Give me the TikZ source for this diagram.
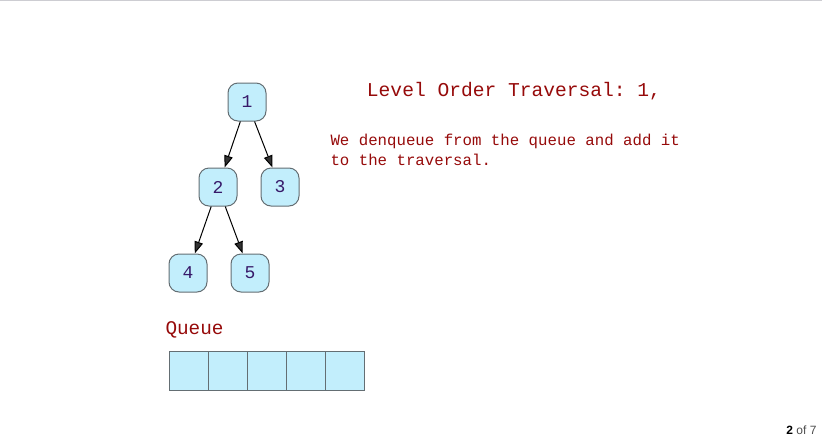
\documentclass[tikz,border=0pt]{standalone}
\usepackage{fontspec}
\setmainfont{Liberation Serif}
\setmonofont{Liberation Mono}
\newfontfamily\pagerfont{Liberation Sans}
\usetikzlibrary{arrows.meta}

\definecolor{cellfill}{RGB}{194,238,252}
\definecolor{cellline}{RGB}{100,110,115}
\definecolor{digitcol}{RGB}{55,25,105}
\definecolor{msgred}{RGB}{150,10,10}
\definecolor{topline}{RGB}{205,205,210}

\tikzset{every picture/.style={line width=0.75pt}}
\tikzset{
  treenode/.style={draw=cellline, fill=cellfill, rounded corners=7.5pt,
    minimum width=28.5pt, minimum height=28.5pt, inner sep=0pt,
    text=digitcol, font=\ttfamily\fontsize{13.5}{14}\selectfont},
  treeedge/.style={draw=black, -{Triangle[length=9pt,width=6.5pt,fill=black!80]}},
  queuecell/.style={draw=cellline, fill=cellfill, minimum width=29.25pt,
    minimum height=29.25pt, inner sep=0pt},
}

\begin{document}
\begin{tikzpicture}[x=0.75pt,y=0.75pt,yscale=-1,xscale=1]
			%set diagram size: 822 x 440
			\useasboundingbox (0,0) rectangle (822,440);
			
			%Straight Lines [top border]
			\draw [draw=topline, line width=1.1pt] (0,0.6) -- (822,0.6) ;
			
			%Rounded Rect [tree nodes]
			\node [treenode] (n1) at (247,102) {1};
			\node [treenode] (n2) at (218,187) {2};
			\node [treenode] (n3) at (280,187) {3};
			\node [treenode] (n4) at (188,273) {4};
			\node [treenode] (n5) at (250,273) {5};
			
			%Straight Lines [tree edges]
			\draw [treeedge] (n1) -- (n2) ;
			\draw [treeedge] (n1) -- (n3) ;
			\draw [treeedge] (n2) -- (n4) ;
			\draw [treeedge] (n2) -- (n5) ;
			
			%Shape: Square [queue cells]
			\foreach \i in {1,...,5}
				\node [queuecell] (q\i) at (149.5+39*\i,370.5) {};
			
			
			\draw (514,91) node [text=msgred, font=\ttfamily\fontsize{14.7}{16}\selectfont] (title) {Level Order Traversal: 1,};
			
			\draw (330,150) node [anchor=west, inner sep=0pt, align=left, text=msgred, font=\ttfamily\fontsize{11.8}{15}\selectfont] (msg) {We denqueue from the queue and add it\\to the traversal.};
			
			\draw (165,330) node [anchor=west, inner sep=0pt, text=msgred, font=\ttfamily\fontsize{14.5}{16}\selectfont] (qlabel) {Queue};
			
			\draw (817,430) node [anchor=east, inner sep=0pt, font=\pagerfont\fontsize{9}{10}\selectfont] (pager) {\textbf{2} \textcolor{black!70}{of 7}};
			
			
		\end{tikzpicture}
\end{document}
